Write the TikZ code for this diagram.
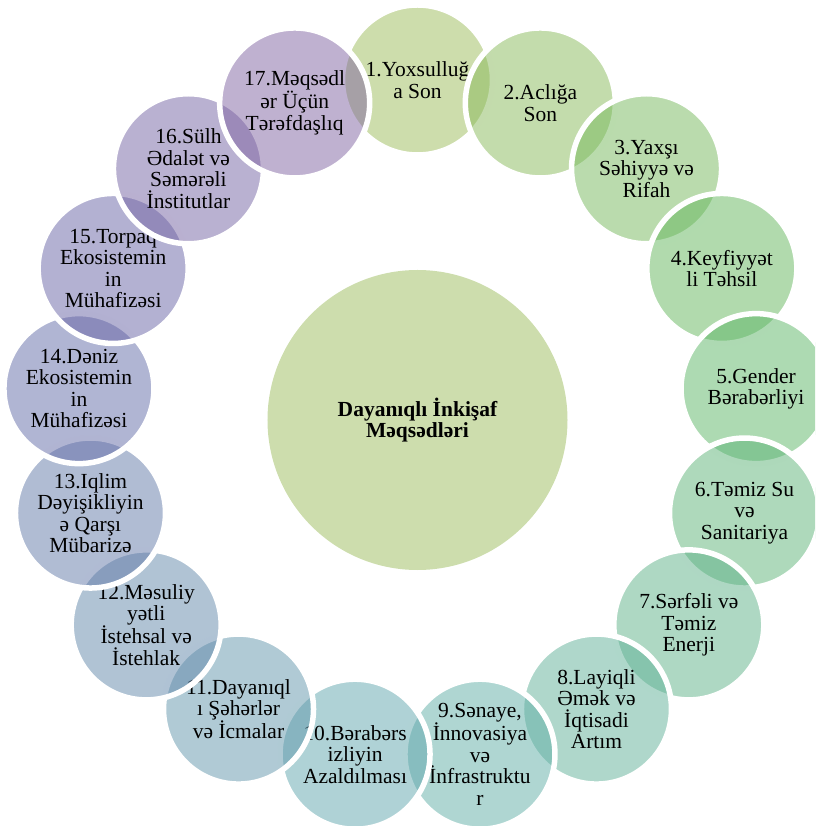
\PassOptionsToPackage{rgb}{xcolor}
\documentclass[tikz,border=0pt]{standalone}
\usepackage{fontspec}
\setmainfont{Liberation Serif}
\usetikzlibrary{positioning}
\definecolor{hubgreen}{HTML}{CDDDAD}
% goal colours, green to purple
\definecolor{sdg1}{Hsb}{79.6,0.524,0.733}
\definecolor{sdg2}{Hsb}{91.3,0.515,0.727}
\definecolor{sdg3}{Hsb}{103.0,0.506,0.721}
\definecolor{sdg4}{Hsb}{114.8,0.498,0.715}
\definecolor{sdg5}{Hsb}{126.5,0.489,0.709}
\definecolor{sdg6}{Hsb}{138.2,0.480,0.702}
\definecolor{sdg7}{Hsb}{149.9,0.471,0.696}
\definecolor{sdg8}{Hsb}{161.6,0.462,0.690}
\definecolor{sdg9}{Hsb}{173.4,0.454,0.684}
\definecolor{sdg10}{Hsb}{185.1,0.445,0.678}
\definecolor{sdg11}{Hsb}{196.8,0.436,0.672}
\definecolor{sdg12}{Hsb}{208.5,0.427,0.666}
\definecolor{sdg13}{Hsb}{220.2,0.418,0.660}
\definecolor{sdg14}{Hsb}{232.0,0.410,0.653}
\definecolor{sdg15}{Hsb}{243.7,0.401,0.647}
\definecolor{sdg16}{Hsb}{255.4,0.392,0.641}
\definecolor{sdg17}{Hsb}{267.1,0.383,0.635}

\begin{document}
\begin{tikzpicture}[
  x=1pt, y=1pt,
  goal/.style={circle, minimum size=150, inner sep=0pt, draw=white,
    line width=5.5, fill opacity=0.5, text opacity=1, align=center,
    font=\fontsize{21.5}{21.5}\selectfont},
  hub/.style={circle, minimum size=300, inner sep=0pt, fill=hubgreen,
    align=center, font=\fontsize{21.5}{21.7}\selectfont\bfseries},
]

% Dimensions
\pgfmathsetmacro{\ringr}{340}      % radius of the ring of goals
\pgfmathsetmacro{\angstep}{360/17} % angle between goals

% Frame
\useasboundingbox (-417.5,-406) rectangle (397.5,420);
\clip (-417.5,-406) rectangle (397.5,420);

% Centre
\node[hub] (hub) at (0,0) {Dayanıqlı İnkişaf\\Məqsədləri};

% Goals, clockwise from the top
\node[goal, fill=sdg1] (g1) at ({90-0*\angstep}:\ringr) {1.Yoxsulluğ\\a Son};
\node[goal, fill=sdg2] (g2) at ({90-1*\angstep}:\ringr) {2.Aclığa\\Son};
\node[goal, fill=sdg3] (g3) at ({90-2*\angstep}:\ringr) {3.Yaxşı\\Səhiyyə və\\Rifah};
\node[goal, fill=sdg4] (g4) at ({90-3*\angstep}:\ringr) {4.Keyfiyyət\\li Təhsil};
\node[goal, fill=sdg5] (g5) at ({90-4*\angstep}:\ringr) {5.Gender\\Bərabərliyi};
\node[goal, fill=sdg6] (g6) at ({90-5*\angstep}:\ringr) {6.Təmiz Su\\və\\Sanitariya};
\node[goal, fill=sdg7] (g7) at ({90-6*\angstep}:\ringr) {7.Sərfəli və\\Təmiz\\Enerji};
\node[goal, fill=sdg8] (g8) at ({90-7*\angstep}:\ringr) {8.Layiqli\\Əmək və\\İqtisadi\\Artım};
\node[goal, fill=sdg9] (g9) at ({90-8*\angstep}:\ringr) {9.Sənaye,\\İnnovasiya\\və\\İnfrastruktu\\r};
\node[goal, fill=sdg10] (g10) at ({90-9*\angstep}:\ringr) {10.Bərabərs\\izliyin\\Azaldılması};
\node[goal, fill=sdg11] (g11) at ({90-10*\angstep}:\ringr) {11.Dayanıql\\ı Şəhərlər\\və İcmalar};
\node[goal, fill=sdg12] (g12) at ({90-11*\angstep}:\ringr) {12.Məsuliy\\yətli\\İstehsal və\\İstehlak};
\node[goal, fill=sdg13] (g13) at ({90-12*\angstep}:\ringr) {13.Iqlim\\Dəyişikliyin\\ə Qarşı\\Mübarizə};
\node[goal, fill=sdg14] (g14) at ({90-13*\angstep}:\ringr) {14.Dəniz\\Ekosistemin\\in\\Mühafizəsi};
\node[goal, fill=sdg15] (g15) at ({90-14*\angstep}:\ringr) {15.Torpaq\\Ekosistemin\\in\\Mühafizəsi};
\node[goal, fill=sdg16] (g16) at ({90-15*\angstep}:\ringr) {16.Sülh\\Ədalət və\\Səmərəli\\İnstitutlar};
\node[goal, fill=sdg17] (g17) at ({90-16*\angstep}:\ringr) {17.Məqsədl\\ər Üçün\\Tərəfdaşlıq};

\end{tikzpicture}
\end{document}
